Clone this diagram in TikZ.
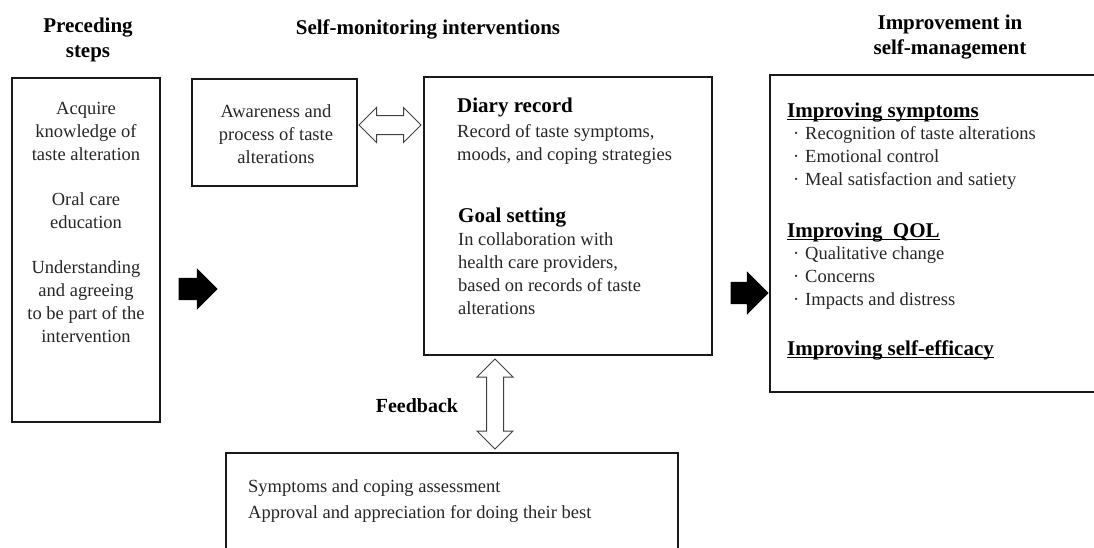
\documentclass[tikz,border=0pt]{standalone}
\usepackage{fontspec}
\setmainfont{Liberation Serif}
\usetikzlibrary{shapes.arrows}
\newcommand\myul[1]{\setbox0\hbox{#1}\rlap{\rule[-3pt]{\wd0}{1.3pt}}\box0}
\newcommand\mybul{\makebox[12pt][l]{·}}
\begin{document}
\begin{tikzpicture}[x=1pt,y=-1pt,
  box/.style={draw=black!90, line width=2.2pt, inner sep=0pt},
  body/.style={font=\fontsize{18.5}{23}\selectfont, text=black!85, inner sep=0pt},
  headfont/.style={font=\bfseries\fontsize{21}{25}\selectfont, inner sep=0pt},
  hollow/.style={double arrow, draw=black!75, line width=1pt, fill=white,
    double arrow head extend=#1, minimum width=0pt},
  solidarrow/.style={single arrow, fill=black, draw=none,
    single arrow head extend=#1, inner xsep=0pt, minimum width=0pt}]
\useasboundingbox (0,0) rectangle (1094,547);
\clip (0,0) rectangle (1094,547);

% titles
\node[headfont, align=center, anchor=north] (tpre) at (88,14.5) {\strut Preceding\\steps};
\node[headfont, anchor=base] (tsm) at (428,34) {Self-monitoring interventions};
\node[headfont, align=center, anchor=north] (timp) at (950,11.5) {\strut Improvement in\\self-management};

% boxes
\node[box, minimum width=148pt, minimum height=344pt] (pre) at (86,250) {};
\node[box, minimum width=165pt, minimum height=107pt] (aw) at (274.5,132.5) {};
\node[box, minimum width=288pt, minimum height=278pt] (sm) at (568,216) {};
\node[box, minimum width=340pt, minimum height=317pt] (imp) at (940,233.5) {};
\node[box, minimum width=452pt, minimum height=117pt] (fb) at (452,511.5) {};

% preceding steps text
\node[body, align=center, anchor=north] (pret) at (86,97.9)
  {\strut Acquire\\knowledge of\\taste alteration\\[22pt]Oral care\\education\\[22pt]Understanding\\and agreeing\\to be part of the\\intervention};

% awareness
\node[body, align=center, anchor=north] (awt) at (276,100.9)
  {\strut Awareness and\\process of taste\\alterations};

% diary / goal
\node[headfont, anchor=base west] (dh) at (457,112) {Diary record};
\node[body, align=left, anchor=north west] (db) at (457,120.9)
  {\strut Record of taste symptoms,\\moods, and coping strategies};
\node[headfont, anchor=base west] (gh) at (458,222) {Goal setting};
\node[body, align=left, anchor=north west] (gb) at (458,228.9)
  {\strut In collaboration with\\health care providers,\\based on records of taste\\alterations};

% improvement
\node[headfont, anchor=base west] (h1) at (787,117) {\myul{Improving symptoms}};
\node[body, align=left, anchor=north west] (b1) at (793,122.9)
  {\strut\mybul Recognition of taste alterations\\\mybul Emotional control\\\mybul Meal satisfaction and satiety};
\node[headfont, anchor=base west] (h2) at (787,237) {\myul{Improving\ \ QOL}};
\node[body, align=left, anchor=north west] (b2) at (793,242.9)
  {\strut\mybul Qualitative change\\\mybul Concerns\\\mybul Impacts and distress};
\node[headfont, anchor=base west] (h3) at (787,355) {\myul{Improving self-efficacy}};

% feedback
\node[font=\bfseries\fontsize{20}{24}\selectfont, inner sep=0pt, anchor=base] (fbl) at (417,412) {Feedback};
\node[body, font=\fontsize{18.5}{26.5}\selectfont, align=left, anchor=north west] (fbt) at (248,473.5)
  {\strut Symptoms and coping assessment\\Approval and appreciation for doing their best};

% arrows
\node[hollow=8pt, inner xsep=0pt, inner ysep=9pt, minimum height=62pt] (a1) at (390,125) {};
\node[hollow=9.5pt, inner xsep=8pt, inner ysep=0pt, minimum height=90pt, shape border rotate=90] (a2) at (495,404) {};
\node[solidarrow=9.5pt, inner ysep=11pt, minimum height=39pt] (k1) at (192.5,289) {};
\node[solidarrow=10.5pt, inner ysep=11pt, minimum height=38pt] (k2) at (744,293) {};
\end{tikzpicture}
\end{document}
